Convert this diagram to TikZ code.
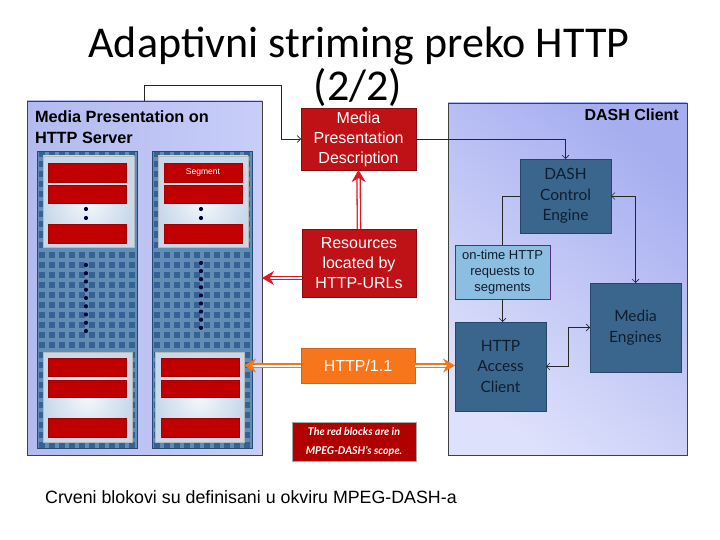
\documentclass[tikz,border=0pt]{standalone}
\usepackage{fontspec}
\setmainfont{Liberation Sans}
\newfontfamily\titlefont{Carlito}
\newfontfamily\gillfont{Lato}
\usetikzlibrary{arrows.meta,shadows}
\definecolor{srvbgA}{RGB}{178,186,240}
\definecolor{srvbgB}{RGB}{200,206,248}
\definecolor{clientbgA}{RGB}{222,225,251}
\definecolor{clientbgB}{RGB}{166,174,240}
\definecolor{colbase}{RGB}{52,98,148}
\definecolor{panelbg}{RGB}{200,216,234}
\definecolor{segred}{RGB}{192,0,0}
\definecolor{mpdred}{RGB}{190,18,22}
\definecolor{orangeA}{RGB}{247,118,28}
\definecolor{steel}{RGB}{58,102,142}
\definecolor{steelborder}{RGB}{38,70,104}
\definecolor{darktext}{RGB}{16,28,46}
\definecolor{lightblue}{RGB}{140,190,225}
\definecolor{purpleb}{RGB}{96,40,128}
\definecolor{arrowred}{RGB}{226,22,30}
\tikzset{
  sz/.style 2 args={minimum width=#1pt, minimum height=#2pt},
  blk/.style={anchor=north west, inner sep=0pt, outer sep=0pt},
  region/.style={blk, draw=black!75, line width=0.8pt},
  colbox/.style={blk, fill=colbase, draw=colbase!75!black, line width=0.5pt,
    path picture={\draw[step=10pt, line width=4pt, white!80!cyan, opacity=0.3]
      (path picture bounding box.south west) grid (path picture bounding box.north east);}},
  panel/.style={blk, inner color=white!80!panelbg, outer color=panelbg, draw=gray!55, line width=0.5pt},
  seg/.style={blk, fill=segred, draw=segred!85!black, line width=0.3pt,
    drop shadow={opacity=0.25, shadow xshift=0.8pt, shadow yshift=-0.8pt}},
  redbox/.style={blk, fill=mpdred, draw=mpdred!70!black, line width=0.4pt, text=white, align=center,
    font=\fontsize{16}{20}\selectfont},
  steelbox/.style={blk, fill=steel, draw=steelborder, line width=0.6pt, text=darktext, align=center,
    font=\gillfont\fontsize{15.5}{20.5}\selectfont},
  thin/.style={draw=black!85, line width=0.6pt},
  tarrow/.style={thin, -{Straight Barb[length=3.5pt,width=7pt]}},
  tboth/.style={thin, {Straight Barb[length=3.5pt,width=7pt]}-{Straight Barb[length=3.5pt,width=7pt]}},
  reddbl/.style={draw=arrowred, line width=1.3pt, double=white, double distance=2pt,
    -{Stealth[length=12pt,width=14pt]}},
  orgdbl/.style={draw=orangeA, line width=1.3pt, double=white, double distance=2pt,
    -{Stealth[length=12pt,width=14pt]}},
  dotf/.style={fill=black!80!blue}
}
\begin{document}
\begin{tikzpicture}[x=1pt,y=-1pt]
\useasboundingbox (0,0) rectangle (720,540);
\fill[white] (0,0) rectangle (720,540);

% ---------- server region ----------
\node[region, left color=srvbgA, right color=srvbgB, sz={235}{354}] (server) at (27,101) {};
\node[blk, font=\bfseries\fontsize{16.3}{21}\selectfont, align=left] (srvtitle) at (35,111)
  {Media Presentation on\\HTTP Server};

\node[colbox, sz={100}{297}] (colL) at (37,151) {};
\node[colbox, sz={100}{297}] (colR) at (152,151) {};

\node[panel, sz={91}{91}] (pTL) at (43,156) {};
\node[panel, sz={90}{91}] (pTR) at (158,156) {};
\node[panel, sz={89}{90}] (pBL) at (43,352) {};
\node[panel, sz={89}{90}] (pBR) at (155,352) {};

% segments top-left
\node[seg, sz={78}{19}] (s1) at (48,163) {};
\node[seg, sz={78}{18}] (s2) at (48,185) {};
\node[seg, sz={78}{19}] (s3) at (48,224) {};
% segments top-right
\node[seg, sz={78}{19}, text=white, font=\fontsize{8.5}{10}\selectfont] (s4) at (164,163) {Segment};
\node[seg, sz={78}{18}] (s5) at (164,185) {};
\node[seg, sz={78}{19}] (s6) at (164,224) {};
% segments bottom-left
\node[seg, sz={78}{18}] (s7) at (48,358) {};
\node[seg, sz={78}{17}] (s8) at (48,380) {};
\node[seg, sz={78}{19}] (s9) at (48,418) {};
% segments bottom-right
\node[seg, sz={78}{18}] (s10) at (161,358) {};
\node[seg, sz={78}{17}] (s11) at (161,380) {};
\node[seg, sz={78}{19}] (s12) at (161,418) {};

% dots
\foreach \y in {209,218} {\fill[dotf] (86,\y) circle (2.1pt); \fill[dotf] (201,\y) circle (2.1pt);}
\foreach \k in {0,...,8} {
  \fill[dotf] (86,265+8.25*\k) circle (2.1pt);
  \fill[dotf] (201,263+8.1*\k) circle (2.1pt);
}

% ---------- middle ----------
\node[redbox, sz={115}{62}] (mpd) at (301,108) {Media\\Presentation\\Description};
\node[redbox, sz={114}{68}] (res) at (302,229) {Resources\\located by\\HTTP-URLs};
\node[blk, fill=orangeA, draw=orangeA!85!black, line width=0.4pt, text=white,
  font=\fontsize{16}{20}\selectfont, sz={114}{35}] (http) at (301,348) {HTTP/1.1};
\node[blk, fill=segred!92!black, draw=gray!70, line width=0.5pt, text=white, align=center,
  font=\gillfont\bfseries\itshape\fontsize{10.7}{19}\selectfont, sz={124}{39}] (note) at (292,422)
  {The red blocks are in\\MPEG-DASH’s scope.};

% ---------- client region ----------
\node[region, top color=clientbgB, bottom color=clientbgA, shading angle=-40, sz={239}{352}] (client) at (448,103) {};
\node[anchor=base east, inner sep=0pt, font=\bfseries\fontsize{16}{20}\selectfont] (cltitle) at (679,121) {DASH Client};

\node[steelbox, sz={91}{74}] (dce) at (520,159) {DASH\\Control\\Engine};
\node[blk, fill=lightblue, draw=purpleb, line width=0.7pt, text=darktext, align=center,
  font=\fontsize{13}{16}\selectfont, sz={95}{54}] (ontime) at (455,245) {on-time HTTP\\requests to\\segments};
\node[steelbox, sz={91}{89}] (hac) at (455,322) {HTTP\\Access\\Client};
\node[steelbox, sz={91}{89}] (me) at (590,283) {Media\\Engines};

% ---------- connectors ----------
\coordinate (c1) at (144,85);
\coordinate (c2) at (281,85);
\draw[tarrow] (server.north -| c1) -- (c1) -- (c2) |- (mpd.west);
\draw[tarrow] (mpd.east) -| (dce.north);
\draw[thin] (dce.west) -| (ontime.north);
\draw[tboth] (dce.east) -| (me.north);
\draw[tarrow] (ontime.south) -- (ontime.south |- hac.north);
\coordinate (c3) at (568,0);
\draw[tboth] (hac.east) -- (hac.east -| c3) |- (me.west);

\draw[reddbl] (res.north) -- (mpd.south);
\coordinate (c4) at (0,278);
\draw[reddbl] (res.west |- c4) -- (server.east |- c4);
\draw[orgdbl] (http.west) -- (pBR.east |- http.west);
\draw[orgdbl] (http.east) -- (hac.west |- http.east);

% ---------- texts ----------
\node[anchor=base, inner sep=0pt, font=\titlefont\fontsize{44}{50}\selectfont] (title1) at (359,58) {Adaptivni striming preko HTTP};
\node[anchor=base, inner sep=0pt, font=\titlefont\fontsize{44}{50}\selectfont] (title2) at (358,101) {(2/2)};
\node[anchor=base west, inner sep=0pt, font=\fontsize{17.8}{20}\selectfont] (sub) at (45,503) {Crveni blokovi su definisani u okviru MPEG-DASH-a};
\end{tikzpicture}
\end{document}
